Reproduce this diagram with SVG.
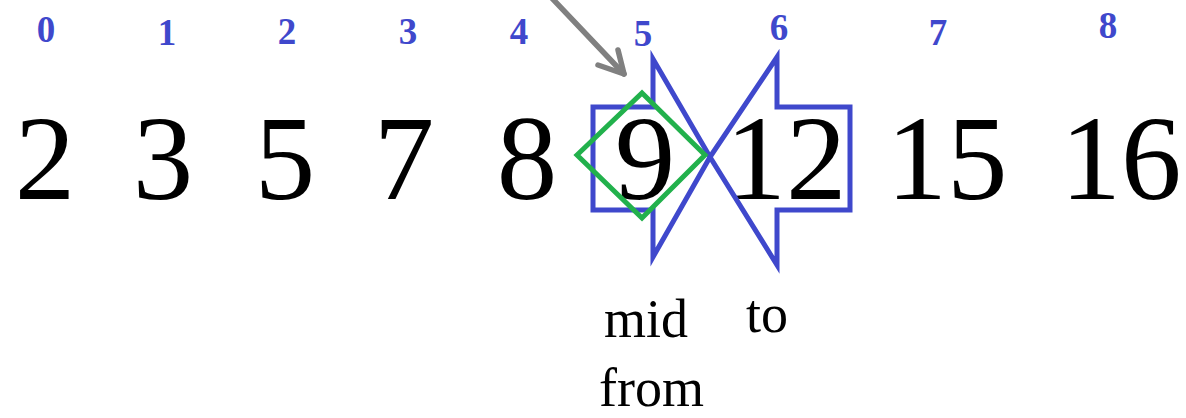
<svg xmlns="http://www.w3.org/2000/svg" width="1186" height="418" viewBox="0 0 1186 418">
  <style>
    .idx { font-family: "Liberation Serif", "Times New Roman", serif; font-weight: bold; font-size: 37px; fill: #3f48cc; text-anchor: middle; }
    .num { font-family: "Liberation Serif", "Times New Roman", serif; font-size: 121px; fill: #000; text-anchor: middle; }
    .lbl { font-family: "Liberation Serif", "Times New Roman", serif; font-size: 54px; fill: #000; }
    .blue { fill: none; stroke: #3f48cc; stroke-width: 5; stroke-linejoin: miter; }
    .green { fill: none; stroke: #22b14c; stroke-width: 5; }
    .conn { fill: none; stroke: #808080; stroke-width: 5.5; stroke-linecap: round; stroke-linejoin: round; }
  </style>
  <rect width="1186" height="418" fill="#fff"/>
  <g id="indices">
    <text class="idx" x="46" y="42">0</text>
    <text class="idx" x="167" y="45">1</text>
    <text class="idx" x="287" y="44">2</text>
    <text class="idx" x="408" y="44">3</text>
    <text class="idx" x="519" y="44">4</text>
    <text class="idx" x="643" y="46">5</text>
    <text class="idx" x="779" y="40">6</text>
    <text class="idx" x="938" y="45">7</text>
    <text class="idx" x="1108" y="38">8</text>
  </g>
  <g id="values">
    <text class="num" x="45" y="199">2</text>
    <text class="num" x="163" y="199">3</text>
    <text class="num" x="285" y="199">5</text>
    <text class="num" x="404" y="199">7</text>
    <text class="num" x="527" y="199">8</text>
    <text class="num" x="645" y="199">9</text>
    <text class="num" x="786" y="199">12</text>
    <text class="num" x="947" y="199">15</text>
    <text class="num" x="1121" y="199">16</text>
  </g>
  <g id="from-arrow">
    <polygon class="blue" points="593,107 653,107 653,59 710,157 653,257 653,210 593,210"/>
  </g>
  <g id="to-arrow">
    <polygon class="blue" points="710,157 777,57 777,107 850,107 850,210 777,210 777,265"/>
  </g>
  <g id="mid-diamond">
    <polygon class="green" points="577,155 642,93 705,155 642,218"/>
  </g>
  <g id="labels">
    <text class="lbl" x="604" y="337">mid</text>
    <text class="lbl" x="746" y="332">to</text>
    <text class="lbl" x="599" y="406">from</text>
  </g>
  <g id="connectors">
    <path class="conn" d="M548,-6 L624,74"/>
    <path class="conn" d="M618,50 L624,74 L598,65"/>
  </g>
</svg>
